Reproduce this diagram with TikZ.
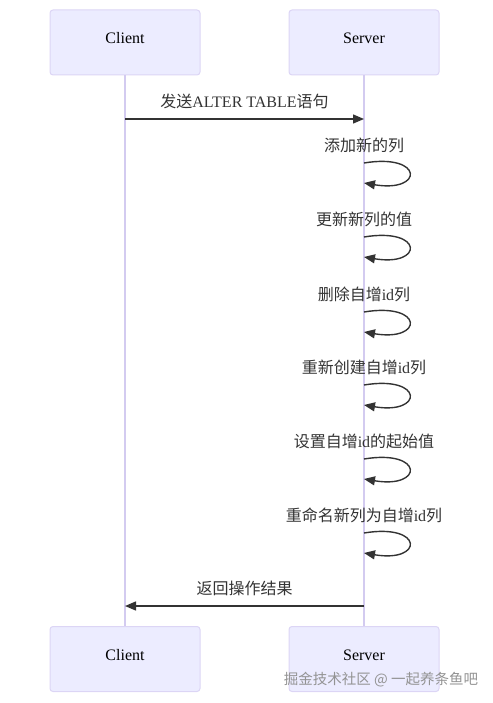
\documentclass[tikz,border=0pt]{standalone}
\usepackage{fontspec}
\setmainfont{Liberation Serif}
\newfontfamily\cjk{Noto Sans CJK SC}
\usepackage{tikz}
\usetikzlibrary{arrows.meta}

\definecolor{actorfill}{HTML}{ECECFF}
\definecolor{actorline}{HTML}{DCD5F5}
\definecolor{lifeline}{HTML}{D3CBF0}
\definecolor{msgline}{HTML}{333333}

\begin{document}
\begin{tikzpicture}[x=1pt, y=-1pt,
    actor/.style={draw=actorline, fill=actorfill, rounded corners=3pt, line width=1pt,
      minimum width=150pt, minimum height=65pt, text height=11pt, text depth=9pt,
      font=\fontsize{16}{19}\selectfont},
    life/.style={draw=lifeline, line width=1.2pt},
    msg/.style={draw=msgline, line width=1.4pt, -{Triangle[length=11pt, width=9pt]}},
    msglabel/.style={text=msgline, font=\fontsize{16}{19}\selectfont, inner sep=0pt}]
  \useasboundingbox (0,0) rectangle (492,703);

  % Actors
  \node[actor] (cltop) at (125,42.5) {Client};
  \node[actor] (srvtop) at (364,42.5) {Server};
  \node[actor] (clbot) at (125,659) {Client};
  \node[actor] (srvbot) at (364,659) {Server};

  % Lifelines
  \draw[life] (cltop.south) -- (clbot.north);
  \draw[life] (srvtop.south) -- (srvbot.north);

  % Request
  \coordinate (c1) at (125,119);
  \coordinate (s1) at (364,119);
  \draw[msg] (c1) -- (s1);
  \node[msglabel] (m1) at (244.5,101) {{\cjk 发送}ALTER TABLE{\cjk 语句}};

  % Self messages on the server
  \foreach \y/\txt [count=\i] in {163/{{\cjk 添加新的列}},
      237/{{\cjk 更新新列的值}},
      312/{{\cjk 删除自增}id{\cjk 列}},
      385/{{\cjk 重新创建自增}id{\cjk 列}},
      459/{{\cjk 设置自增}id{\cjk 的起始值}},
      533/{{\cjk 重命名新列为自增}id{\cjk 列}}} {
    \coordinate (loop\i) at (364,\y);
    \coordinate (back\i) at (364,\y+20);
    \node[msglabel] (lbl\i) at (364,\y-18) {\txt};
    \draw[msg] (loop\i) .. controls +(60,-10) and +(60,10) .. (back\i);
  }

  % Reply
  \coordinate (s2) at (364,606);
  \coordinate (c2) at (125,606);
  \draw[msg] (s2) -- (c2);
  \node[msglabel] (m2) at (244.5,588) {\cjk 返回操作结果};

  % Watermark
  \node[text=gray!85, font=\cjk\fontsize{14.5}{17}\selectfont, inner sep=0pt] (wm) at (381,680) {掘金技术社区 @ 一起养条鱼吧};
\end{tikzpicture}
\end{document}
